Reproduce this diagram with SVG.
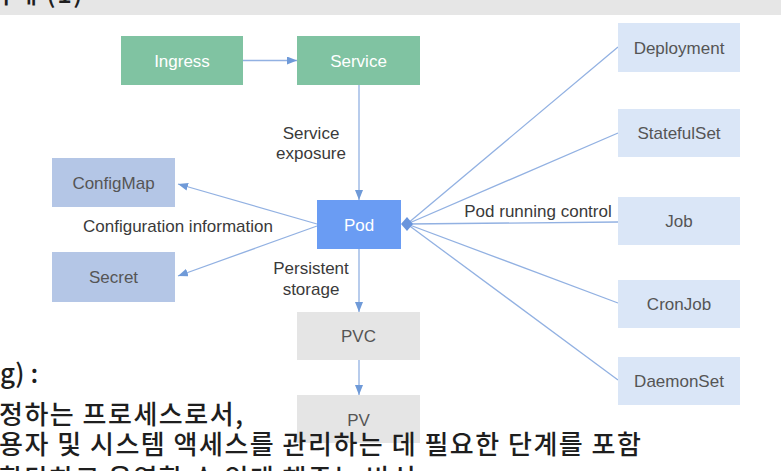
<svg xmlns="http://www.w3.org/2000/svg" width="781" height="471" viewBox="0 0 781 471">
<style>
.lbl{font-family:"Liberation Sans",Arial,sans-serif;font-size:17px;text-anchor:middle}
.w{fill:#ffffff}
.g{fill:#555555}
.note{font-family:"Liberation Sans",Arial,sans-serif;font-size:17px;fill:#3a3a3a;text-anchor:middle}
.kr{font-family:"Noto Sans CJK KR","Noto Sans",sans-serif;font-size:26px;font-weight:500;letter-spacing:1.5px;fill:#1e1e1e}
.green{fill:#80c3a2}
.lblue{fill:#dae6f7}
.mblue{fill:#b4c6e6}
.pod{fill:#6a9cf3}
.grey{fill:#e5e5e5}
.ln{stroke:#92b1e2;stroke-width:1.3;fill:none}
</style>
<defs>
<marker id="arr" markerUnits="userSpaceOnUse" markerWidth="10" markerHeight="8" refX="10" refY="4" orient="auto">
<path d="M0,0 L10,4 L0,8 z" fill="#6f9ad8"/>
</marker>
</defs>
<rect x="0" y="0" width="781" height="15" fill="#e6e6e6"/>
<text class="kr" x="-12" y="3">사례 (1)</text>

<g id="connectors">
<line class="ln" x1="243" y1="60.5" x2="297" y2="60.5" marker-end="url(#arr)"/>
<line class="ln" x1="359" y1="85" x2="359" y2="200" marker-end="url(#arr)"/>
<line class="ln" x1="317" y1="224" x2="178" y2="184" marker-end="url(#arr)"/>
<line class="ln" x1="317" y1="226" x2="178" y2="276" marker-end="url(#arr)"/>
<line class="ln" x1="359" y1="249" x2="359" y2="312" marker-end="url(#arr)"/>
<line class="ln" x1="359" y1="360" x2="359" y2="395" marker-end="url(#arr)"/>
<line class="ln" x1="407" y1="224" x2="618" y2="47"/>
<line class="ln" x1="407" y1="224" x2="618" y2="133"/>
<line class="ln" x1="407" y1="224" x2="618" y2="222"/>
<line class="ln" x1="407" y1="224" x2="618" y2="303"/>
<line class="ln" x1="407" y1="224" x2="618" y2="380"/>
<polygon points="401,224 407,217 413,224 407,231" fill="#6a95dc"/>
<text class="note" x="311" y="139">Service</text>
<text class="note" x="311" y="159">exposure</text>
<text class="note" x="178" y="232">Configuration information</text>
<text class="note" x="311" y="274">Persistent</text>
<text class="note" x="311" y="295">storage</text>
<text class="note" x="538" y="217">Pod running control</text>
</g>

<g id="ingress"><rect class="green" x="121" y="36" width="122" height="49"/><text class="lbl w" x="182" y="66.5">Ingress</text></g>
<g id="service"><rect class="green" x="297" y="36" width="123" height="49"/><text class="lbl w" x="358.5" y="66.5">Service</text></g>
<g id="pod"><rect class="pod" x="317" y="200" width="84" height="49"/><text class="lbl w" x="359" y="230.5">Pod</text></g>
<g id="configmap"><rect class="mblue" x="52" y="158" width="123" height="49"/><text class="lbl g" x="113.5" y="188.5">ConfigMap</text></g>
<g id="secret"><rect class="mblue" x="52" y="252" width="123" height="50"/><text class="lbl g" x="113.5" y="283">Secret</text></g>
<g id="pvc"><rect class="grey" x="297" y="312" width="123" height="48"/><text class="lbl g" x="358.5" y="342">PVC</text></g>
<g id="pv"><rect class="grey" x="297" y="395" width="123" height="48"/><text class="lbl g" x="358.5" y="426">PV</text></g>
<g id="deployment"><rect class="lblue" x="618" y="23" width="122" height="49"/><text class="lbl g" x="679" y="53.5">Deployment</text></g>
<g id="statefulset"><rect class="lblue" x="618" y="109" width="122" height="48"/><text class="lbl g" x="679" y="139">StatefulSet</text></g>
<g id="job"><rect class="lblue" x="618" y="197" width="122" height="48"/><text class="lbl g" x="679" y="227">Job</text></g>
<g id="cronjob"><rect class="lblue" x="618" y="280" width="122" height="48"/><text class="lbl g" x="679" y="310">CronJob</text></g>
<g id="daemonset"><rect class="lblue" x="618" y="357" width="122" height="48"/><text class="lbl g" x="679" y="387">DaemonSet</text></g>

<text class="kr" x="0" y="383" style="letter-spacing:0">g) :</text>
<text class="kr" x="-1" y="424">정하는 프로세스로서,</text>
<text class="kr" x="-1" y="454">용자 및 시스템 액세스를 관리하는 데 필요한 단계를 포함</text>
<text class="kr" x="-1" y="488">할당하고 운영할 수 있게 해주는 방식</text>
</svg>
